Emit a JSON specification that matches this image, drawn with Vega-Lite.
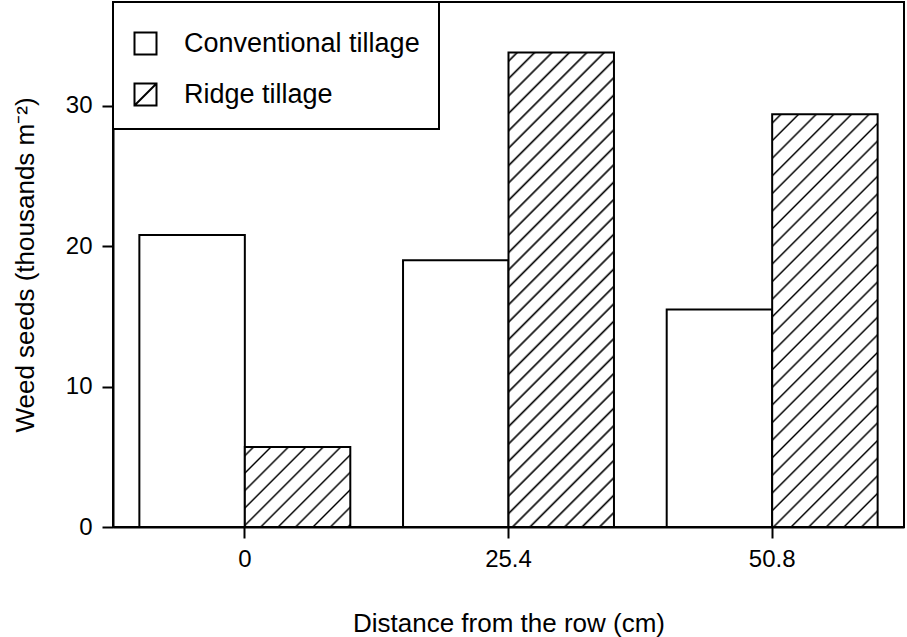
{
  "$schema": "https://vega.github.io/schema/vega-lite/v6.json",
  "width": 791,
  "height": 525,
  "autosize": {"type": "none"},
  "padding": {"left": 113, "top": 2, "right": 3, "bottom": 110},
  "background": "white",
  "config": {
    "font": "Liberation Sans",
    "view": {"stroke": "black", "strokeWidth": 2},
    "axis": {
      "domainColor": "black", "domainWidth": 2, "tickColor": "black", "tickWidth": 2,
      "tickSize": 11, "labelColor": "black", "labelFont": "Liberation Sans", "labelFontSize": 24,
      "titleColor": "black", "titleFont": "Liberation Sans", "titleFontSize": 26, "titleFontWeight": "normal",
      "grid": false
    },
    "legend": {
      "orient": "none", "legendX": 0, "legendY": 0,
      "strokeColor": "black", "strokeWidth": 2, "fillColor": "white",
      "padding": 19, "rowPadding": 20,
      "titleFontSize": 9, "titlePadding": 0, "titleColor": "white",
      "labelFont": "Liberation Sans", "labelFontSize": 27, "labelColor": "black", "labelOffset": 25, "labelLimit": 500,
      "symbolType": "square", "symbolSize": 484, "symbolStrokeColor": "black", "symbolStrokeWidth": 2
    }
  },
  "data": {"values": [
    {"dist": "0", "type": "Conventional tillage", "seeds": 20.8},
    {"dist": "0", "type": "Ridge tillage", "seeds": 5.7},
    {"dist": "25.4", "type": "Conventional tillage", "seeds": 19.0},
    {"dist": "25.4", "type": "Ridge tillage", "seeds": 33.8},
    {"dist": "50.8", "type": "Conventional tillage", "seeds": 15.5},
    {"dist": "50.8", "type": "Ridge tillage", "seeds": 29.4}
  ]},
  "mark": {"type": "bar", "stroke": "black", "strokeWidth": 2, "clip": false},
  "encoding": {
    "x": {
      "field": "dist", "type": "nominal", "sort": null,
      "scale": {"domain": ["0", "25.4", "50.8"], "paddingInner": 0.2, "paddingOuter": 0.1},
      "axis": {"title": "Distance from the row (cm)", "labelAngle": 0, "labelPadding": 9, "titlePadding": 39}
    },
    "xOffset": {
      "field": "type", "type": "nominal", "sort": null,
      "scale": {"domain": ["Conventional tillage", "Ridge tillage"], "paddingInner": 0, "paddingOuter": 0}
    },
    "y": {
      "field": "seeds", "type": "quantitative",
      "scale": {"domain": [0, 37.4], "nice": false, "zero": true},
      "axis": {"title": "Weed seeds (thousands m⁻²)", "values": [0, 10, 20, 30], "labelPadding": 10, "titlePadding": 27}
    },
    "fill": {
      "field": "type", "type": "nominal", "sort": null,
      "scale": {
        "domain": ["Conventional tillage", "Ridge tillage"],
        "range": ["#ffffff", "#fefefe"]
      },
      "legend": {"title": " ", "encode": {"symbols": {"update": {
        "stroke": {"value": "#000000"},
        "strokeWidth": {"value": 2},
        "fill": {"value": "#ffffff"},
        "shape": [
          {"test": "datum.value === 'Ridge tillage' || datum.label === 'Ridge tillage'", "value": "M-1,-1H1V1H-1Z M-1,1L1,-1"},
          {"value": "square"}
        ]
      }}}},
      "condition": [
        {"test": "datum.type === 'Ridge tillage' && datum.dist === '0'", "value": {"gradient": "linear", "x1": 0, "y1": 0, "x2": 1.11628, "y2": 0.84671, "stops": [
          {"offset": 0, "color": "#fff"},
          {"offset": 0.036, "color": "#fff"}, {"offset": 0.047, "color": "#000"}, {"offset": 0.058, "color": "#fff"},
          {"offset": 0.130, "color": "#fff"}, {"offset": 0.141, "color": "#000"}, {"offset": 0.152, "color": "#fff"},
          {"offset": 0.224, "color": "#fff"}, {"offset": 0.235, "color": "#000"}, {"offset": 0.246, "color": "#fff"},
          {"offset": 0.318, "color": "#fff"}, {"offset": 0.329, "color": "#000"}, {"offset": 0.340, "color": "#fff"},
          {"offset": 0.412, "color": "#fff"}, {"offset": 0.423, "color": "#000"}, {"offset": 0.434, "color": "#fff"},
          {"offset": 0.506, "color": "#fff"}, {"offset": 0.517, "color": "#000"}, {"offset": 0.528, "color": "#fff"},
          {"offset": 0.600, "color": "#fff"}, {"offset": 0.611, "color": "#000"}, {"offset": 0.622, "color": "#fff"},
          {"offset": 0.694, "color": "#fff"}, {"offset": 0.705, "color": "#000"}, {"offset": 0.716, "color": "#fff"},
          {"offset": 0.788, "color": "#fff"}, {"offset": 0.799, "color": "#000"}, {"offset": 0.810, "color": "#fff"},
          {"offset": 0.882, "color": "#fff"}, {"offset": 0.893, "color": "#000"}, {"offset": 0.904, "color": "#fff"},
          {"offset": 0.976, "color": "#fff"}, {"offset": 0.987, "color": "#000"}, {"offset": 0.998, "color": "#fff"},
          {"offset": 1, "color": "#fff"}
        ]}},
        {"test": "datum.type === 'Ridge tillage' && datum.dist === '25.4'", "value": {"gradient": "linear", "x1": 0, "y1": 0, "x2": 0.25889, "y2": 1.16473, "stops": [
          {"offset": 0, "color": "#fff"},
          {"offset": 0.011, "color": "#fff"}, {"offset": 0.015, "color": "#000"}, {"offset": 0.019, "color": "#fff"},
          {"offset": 0.041, "color": "#fff"}, {"offset": 0.045, "color": "#000"}, {"offset": 0.049, "color": "#fff"},
          {"offset": 0.071, "color": "#fff"}, {"offset": 0.075, "color": "#000"}, {"offset": 0.079, "color": "#fff"},
          {"offset": 0.101, "color": "#fff"}, {"offset": 0.105, "color": "#000"}, {"offset": 0.109, "color": "#fff"},
          {"offset": 0.131, "color": "#fff"}, {"offset": 0.135, "color": "#000"}, {"offset": 0.139, "color": "#fff"},
          {"offset": 0.161, "color": "#fff"}, {"offset": 0.165, "color": "#000"}, {"offset": 0.169, "color": "#fff"},
          {"offset": 0.191, "color": "#fff"}, {"offset": 0.195, "color": "#000"}, {"offset": 0.199, "color": "#fff"},
          {"offset": 0.221, "color": "#fff"}, {"offset": 0.225, "color": "#000"}, {"offset": 0.229, "color": "#fff"},
          {"offset": 0.251, "color": "#fff"}, {"offset": 0.255, "color": "#000"}, {"offset": 0.259, "color": "#fff"},
          {"offset": 0.281, "color": "#fff"}, {"offset": 0.285, "color": "#000"}, {"offset": 0.289, "color": "#fff"},
          {"offset": 0.311, "color": "#fff"}, {"offset": 0.315, "color": "#000"}, {"offset": 0.319, "color": "#fff"},
          {"offset": 0.341, "color": "#fff"}, {"offset": 0.345, "color": "#000"}, {"offset": 0.349, "color": "#fff"},
          {"offset": 0.371, "color": "#fff"}, {"offset": 0.375, "color": "#000"}, {"offset": 0.379, "color": "#fff"},
          {"offset": 0.401, "color": "#fff"}, {"offset": 0.405, "color": "#000"}, {"offset": 0.409, "color": "#fff"},
          {"offset": 0.431, "color": "#fff"}, {"offset": 0.435, "color": "#000"}, {"offset": 0.439, "color": "#fff"},
          {"offset": 0.461, "color": "#fff"}, {"offset": 0.465, "color": "#000"}, {"offset": 0.469, "color": "#fff"},
          {"offset": 0.491, "color": "#fff"}, {"offset": 0.495, "color": "#000"}, {"offset": 0.499, "color": "#fff"},
          {"offset": 0.521, "color": "#fff"}, {"offset": 0.525, "color": "#000"}, {"offset": 0.529, "color": "#fff"},
          {"offset": 0.551, "color": "#fff"}, {"offset": 0.555, "color": "#000"}, {"offset": 0.559, "color": "#fff"},
          {"offset": 0.581, "color": "#fff"}, {"offset": 0.585, "color": "#000"}, {"offset": 0.589, "color": "#fff"},
          {"offset": 0.611, "color": "#fff"}, {"offset": 0.615, "color": "#000"}, {"offset": 0.619, "color": "#fff"},
          {"offset": 0.641, "color": "#fff"}, {"offset": 0.645, "color": "#000"}, {"offset": 0.649, "color": "#fff"},
          {"offset": 0.671, "color": "#fff"}, {"offset": 0.675, "color": "#000"}, {"offset": 0.679, "color": "#fff"},
          {"offset": 0.701, "color": "#fff"}, {"offset": 0.705, "color": "#000"}, {"offset": 0.709, "color": "#fff"},
          {"offset": 0.731, "color": "#fff"}, {"offset": 0.735, "color": "#000"}, {"offset": 0.739, "color": "#fff"},
          {"offset": 0.761, "color": "#fff"}, {"offset": 0.765, "color": "#000"}, {"offset": 0.769, "color": "#fff"},
          {"offset": 0.791, "color": "#fff"}, {"offset": 0.795, "color": "#000"}, {"offset": 0.799, "color": "#fff"},
          {"offset": 0.821, "color": "#fff"}, {"offset": 0.825, "color": "#000"}, {"offset": 0.829, "color": "#fff"},
          {"offset": 0.851, "color": "#fff"}, {"offset": 0.855, "color": "#000"}, {"offset": 0.859, "color": "#fff"},
          {"offset": 0.881, "color": "#fff"}, {"offset": 0.885, "color": "#000"}, {"offset": 0.889, "color": "#fff"},
          {"offset": 0.911, "color": "#fff"}, {"offset": 0.915, "color": "#000"}, {"offset": 0.919, "color": "#fff"},
          {"offset": 0.941, "color": "#fff"}, {"offset": 0.945, "color": "#000"}, {"offset": 0.949, "color": "#fff"},
          {"offset": 0.971, "color": "#fff"}, {"offset": 0.975, "color": "#000"}, {"offset": 0.979, "color": "#fff"},
          {"offset": 1, "color": "#fff"}
        ]}},
        {"test": "datum.type === 'Ridge tillage' && datum.dist === '50.8'", "value": {"gradient": "linear", "x1": 0, "y1": 0, "x2": 0.30120, "y2": 1.17859, "stops": [
          {"offset": 0, "color": "#fff"},
          {"offset": 0.013, "color": "#fff"}, {"offset": 0.017, "color": "#000"}, {"offset": 0.021, "color": "#fff"},
          {"offset": 0.047, "color": "#fff"}, {"offset": 0.051, "color": "#000"}, {"offset": 0.055, "color": "#fff"},
          {"offset": 0.081, "color": "#fff"}, {"offset": 0.085, "color": "#000"}, {"offset": 0.089, "color": "#fff"},
          {"offset": 0.115, "color": "#fff"}, {"offset": 0.119, "color": "#000"}, {"offset": 0.123, "color": "#fff"},
          {"offset": 0.149, "color": "#fff"}, {"offset": 0.153, "color": "#000"}, {"offset": 0.157, "color": "#fff"},
          {"offset": 0.183, "color": "#fff"}, {"offset": 0.187, "color": "#000"}, {"offset": 0.191, "color": "#fff"},
          {"offset": 0.217, "color": "#fff"}, {"offset": 0.221, "color": "#000"}, {"offset": 0.225, "color": "#fff"},
          {"offset": 0.251, "color": "#fff"}, {"offset": 0.255, "color": "#000"}, {"offset": 0.259, "color": "#fff"},
          {"offset": 0.285, "color": "#fff"}, {"offset": 0.289, "color": "#000"}, {"offset": 0.293, "color": "#fff"},
          {"offset": 0.319, "color": "#fff"}, {"offset": 0.323, "color": "#000"}, {"offset": 0.327, "color": "#fff"},
          {"offset": 0.353, "color": "#fff"}, {"offset": 0.357, "color": "#000"}, {"offset": 0.361, "color": "#fff"},
          {"offset": 0.387, "color": "#fff"}, {"offset": 0.391, "color": "#000"}, {"offset": 0.395, "color": "#fff"},
          {"offset": 0.421, "color": "#fff"}, {"offset": 0.425, "color": "#000"}, {"offset": 0.429, "color": "#fff"},
          {"offset": 0.455, "color": "#fff"}, {"offset": 0.459, "color": "#000"}, {"offset": 0.463, "color": "#fff"},
          {"offset": 0.489, "color": "#fff"}, {"offset": 0.493, "color": "#000"}, {"offset": 0.497, "color": "#fff"},
          {"offset": 0.523, "color": "#fff"}, {"offset": 0.527, "color": "#000"}, {"offset": 0.531, "color": "#fff"},
          {"offset": 0.557, "color": "#fff"}, {"offset": 0.561, "color": "#000"}, {"offset": 0.565, "color": "#fff"},
          {"offset": 0.591, "color": "#fff"}, {"offset": 0.595, "color": "#000"}, {"offset": 0.599, "color": "#fff"},
          {"offset": 0.625, "color": "#fff"}, {"offset": 0.629, "color": "#000"}, {"offset": 0.633, "color": "#fff"},
          {"offset": 0.659, "color": "#fff"}, {"offset": 0.663, "color": "#000"}, {"offset": 0.667, "color": "#fff"},
          {"offset": 0.693, "color": "#fff"}, {"offset": 0.697, "color": "#000"}, {"offset": 0.701, "color": "#fff"},
          {"offset": 0.727, "color": "#fff"}, {"offset": 0.731, "color": "#000"}, {"offset": 0.735, "color": "#fff"},
          {"offset": 0.761, "color": "#fff"}, {"offset": 0.765, "color": "#000"}, {"offset": 0.769, "color": "#fff"},
          {"offset": 0.795, "color": "#fff"}, {"offset": 0.799, "color": "#000"}, {"offset": 0.803, "color": "#fff"},
          {"offset": 0.829, "color": "#fff"}, {"offset": 0.833, "color": "#000"}, {"offset": 0.837, "color": "#fff"},
          {"offset": 0.863, "color": "#fff"}, {"offset": 0.867, "color": "#000"}, {"offset": 0.871, "color": "#fff"},
          {"offset": 0.897, "color": "#fff"}, {"offset": 0.901, "color": "#000"}, {"offset": 0.905, "color": "#fff"},
          {"offset": 0.931, "color": "#fff"}, {"offset": 0.935, "color": "#000"}, {"offset": 0.939, "color": "#fff"},
          {"offset": 0.965, "color": "#fff"}, {"offset": 0.969, "color": "#000"}, {"offset": 0.973, "color": "#fff"},
          {"offset": 1, "color": "#fff"}
        ]}}
      ]
    }
  }
}
